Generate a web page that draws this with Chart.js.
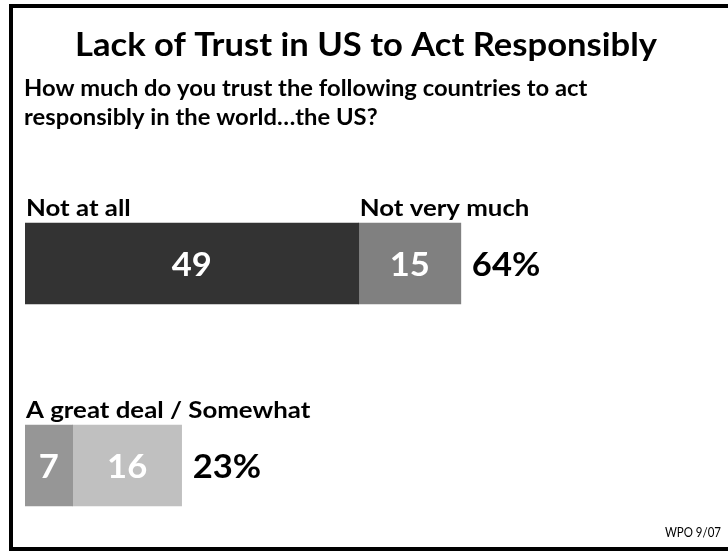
<!DOCTYPE html>
<html>
<head>
<meta charset="utf-8">
<script src="https://cdn.jsdelivr.net/npm/chart.js@4.4.1/dist/chart.umd.min.js"></script>
<style>
  html, body { margin: 0; padding: 0; background: #fff; overflow: hidden; }
  #wrap { width: 728px; height: 551px; position: relative; }
</style>
</head>
<body>
<div id="wrap"><canvas id="trust"></canvas></div>
<script>
const titleText = 'Lack of Trust in US to Act Responsibly';
const questionLines = [
    'How much do you trust the following countries to act',
    'responsibly in the world…the US?',
];
const sourceText = 'WPO 9/07';

// one entry per bar segment
const segmentNames = ['Not at all', 'Not very much', 'A great deal', 'Somewhat'];
const segmentRows = [0, 0, 1, 1];
const segmentValues = [49, 15, 7, 16];
const segmentColors = ['#333333', '#808080', '#969696', '#c0c0c0'];

// headers written above the bars, anchored at a segment's left edge
const headerTexts = ['Not at all', 'Not very much', 'A great deal / Somewhat'];
const headerSegments = [0, 1, 2];

const FONT_FAMILY = 'Lato, "Open Sans", sans-serif';

function rowTotal(row) {
    return segmentValues.reduce((sum, v, i) => (segmentRows[i] === row ? sum + v : sum), 0);
}

// horizontal squeeze so the bold face runs as narrow as a condensed one
let boldScale = 1;

function drawText(ctx, text, x, y, font, color, align, sx) {
    ctx.save();
    ctx.font = font;
    ctx.fillStyle = color;
    ctx.textAlign = 'left';
    ctx.textBaseline = 'alphabetic';
    const w = ctx.measureText(text).width * sx;
    let left = x;
    if (align === 'center') left = x - w / 2;
    if (align === 'right') left = x - w;
    ctx.translate(left, y);
    ctx.scale(sx, 1);
    ctx.fillText(text, 0, 0);
    ctx.restore();
}

const frameAndText = {
    id: 'frameAndText',
    beforeDraw(chart) {
        const ctx = chart.ctx;
        ctx.save();
        ctx.fillStyle = '#fff';
        ctx.fillRect(0, 0, chart.width, chart.height);
        ctx.fillStyle = '#000';
        ctx.fillRect(9, 4, chart.width - 9, 4);
        ctx.fillRect(9, 4, 4, chart.height - 4);
        ctx.fillRect(9, chart.height - 4, chart.width - 9, 4);
        ctx.restore();

        ctx.save();
        ctx.font = 'bold 33px ' + FONT_FAMILY;
        boldScale = 582 / ctx.measureText(titleText).width;
        ctx.restore();

        drawText(ctx, titleText, 366, 56, 'bold 33px ' + FONT_FAMILY, '#000', 'center', boldScale);
        questionLines.forEach((line, i) => {
            drawText(ctx, line, 24, 96 + i * 29, 'bold 22px ' + FONT_FAMILY, '#000', 'left', boldScale * 1.03);
        });
        drawText(ctx, sourceText, 721, 537, '14px ' + FONT_FAMILY, '#000', 'right', 0.82);
    },
    afterDatasetsDraw(chart) {
        const ctx = chart.ctx;
        const bars = chart.data.datasets.map((ds, i) =>
            chart.getDatasetMeta(i).data[0].getProps(['x', 'y', 'base', 'height'], true)
        );

        // value inside each segment
        bars.forEach((bar, i) => {
            const cx = (bar.x + bar.base) / 2;
            drawText(ctx, String(segmentValues[i]), cx, bar.y + 12,
                'bold 33px ' + FONT_FAMILY, '#fff', 'center', boldScale);
        });

        // headers above the bars
        headerTexts.forEach((text, i) => {
            const bar = bars[headerSegments[i]];
            drawText(ctx, text, bar.base + 1, bar.y - bar.height / 2 - 7,
                'bold 22px ' + FONT_FAMILY, '#000', 'left', boldScale * 1.12);
        });

        // row totals to the right of each bar
        const rows = [...new Set(segmentRows)];
        rows.forEach((row) => {
            const idx = segmentRows.map((r, i) => (r === row ? i : -1)).filter((i) => i >= 0);
            const end = Math.max(...idx.map((i) => bars[i].x));
            drawText(ctx, rowTotal(row) + '%', end + 11, bars[idx[0]].y + 12,
                'bold 33px ' + FONT_FAMILY, '#000', 'left', boldScale);
        });
    },
};

const datasets = segmentNames.map((name, i) => ({
    label: name,
    data: [{ y: segmentRows[i], x: segmentValues[i] }],
    backgroundColor: segmentColors[i],
    borderWidth: 0,
    barThickness: 81,
}));

new Chart(document.getElementById('trust'), {
    type: 'bar',
    data: { datasets },
    options: {
        indexAxis: 'y',
        responsive: true,
        maintainAspectRatio: false,
        animation: false,
        layout: { padding: { left: 25, right: 22, top: 213, bottom: 35 } },
        scales: {
            x: { type: 'linear', min: 0, max: 100, stacked: true, display: false },
            y: { type: 'linear', min: -0.25, max: 1.25, reverse: true, offset: false, stacked: true, display: false },
        },
        plugins: {
            legend: { display: false },
            tooltip: { enabled: false },
        },
    },
    plugins: [frameAndText],
});
</script>
</body>
</html>
